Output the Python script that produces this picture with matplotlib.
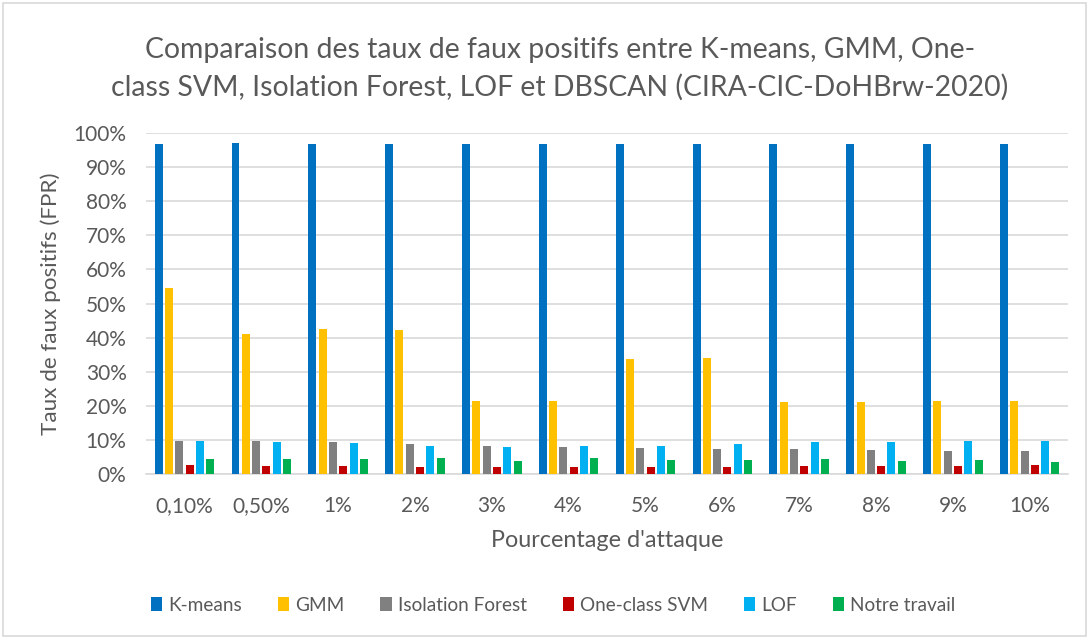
import matplotlib.pyplot as plt
import matplotlib.patches as mpatches
import numpy as np
from matplotlib.ticker import PercentFormatter

plt.rcParams['font.family'] = ['Lato', 'DejaVu Sans']

TEXT_COLOR = '#595959'
GRID_COLOR = '#D9D9D9'

categories = ['0,10%', '0,50%', '1%', '2%', '3%', '4%', '5%', '6%', '7%', '8%', '9%', '10%']

kmeans = [96.9, 97.1, 96.7, 96.9, 96.7, 96.7, 96.9, 96.9, 96.7, 96.9, 96.7, 96.9]
gmm = [54.5, 41.0, 42.5, 42.3, 21.5, 21.3, 33.8, 34.0, 21.0, 21.1, 21.3, 21.3]
iso_forest = [9.8, 9.6, 9.3, 8.7, 8.2, 7.8, 7.5, 7.2, 7.2, 7.0, 6.8, 6.8]
oc_svm = [2.6, 2.4, 2.3, 2.1, 2.2, 2.2, 2.2, 2.2, 2.3, 2.3, 2.3, 2.5]
lof = [9.8, 9.4, 9.0, 8.2, 7.8, 8.3, 8.3, 8.7, 9.3, 9.3, 9.6, 9.8]
notre = [4.4, 4.4, 4.4, 4.6, 3.9, 4.6, 4.2, 4.2, 4.4, 3.9, 4.1, 3.6]

series = [
    ('K-means', kmeans, '#0070C0'),
    ('GMM', gmm, '#FFC000'),
    ('Isolation Forest', iso_forest, '#808080'),
    ('One-class SVM', oc_svm, '#C00000'),
    ('LOF', lof, '#00B0F0'),
    ('Notre travail', notre, '#00B050'),
]

fig = plt.figure(figsize=(10.91, 6.41), dpi=100)
ax = fig.add_axes([0.1338, 0.2605, 0.8452, 0.532])

x = np.arange(len(categories))
pitch = 0.134
width = 0.104
for i, (name, values, color) in enumerate(series):
    offset = (i - 2.5) * pitch
    ax.bar(x + offset, np.array(values) / 100, width, color=color, label=name, zorder=3)

ax.set_xlim(-0.5, len(categories) - 0.5)
ax.set_ylim(0, 1.0)
ax.set_yticks(np.arange(0, 1.01, 0.1))
ax.yaxis.set_major_formatter(PercentFormatter(1.0, decimals=0))
ax.set_xticks(x)
ax.set_xticklabels(categories)
ax.tick_params(axis='both', length=0, labelsize=15, colors=TEXT_COLOR)
ax.tick_params(axis='x', pad=16)
ax.tick_params(axis='y', pad=14)
ax.grid(axis='y', color=GRID_COLOR, linewidth=1.2, zorder=0)
for side in ['top', 'right', 'left']:
    ax.spines[side].set_visible(False)
ax.spines['bottom'].set_color(GRID_COLOR)
ax.spines['bottom'].set_linewidth(1.2)

ax.set_xlabel("Pourcentage d'attaque", fontsize=16.8, color=TEXT_COLOR, labelpad=10)
ax.set_ylabel('Taux de faux positifs (FPR)', fontsize=16.2, color=TEXT_COLOR, labelpad=9)

fig.text(0.513, 0.893,
         'Comparaison des taux de faux positifs entre K-means, GMM, One-\n'
         'class SVM, Isolation Forest, LOF et DBSCAN (CIRA-CIC-DoHBrw-2020)',
         ha='center', va='center', fontsize=20.4, color=TEXT_COLOR, linespacing=1.48)

leg = fig.legend(loc='center', bbox_to_anchor=(0.507, 0.056), ncol=6, frameon=False,
                 fontsize=13.7, handlelength=0.6, handleheight=0.7, handletextpad=0.3,
                 columnspacing=1.9)
for t in leg.get_texts():
    t.set_color(TEXT_COLOR)

fig.patches.append(mpatches.Rectangle((0.003, 0.008), 0.992, 0.988, transform=fig.transFigure,
                                      fill=False, edgecolor=GRID_COLOR, linewidth=1.2))

fig.savefig('out.png', dpi=100)
